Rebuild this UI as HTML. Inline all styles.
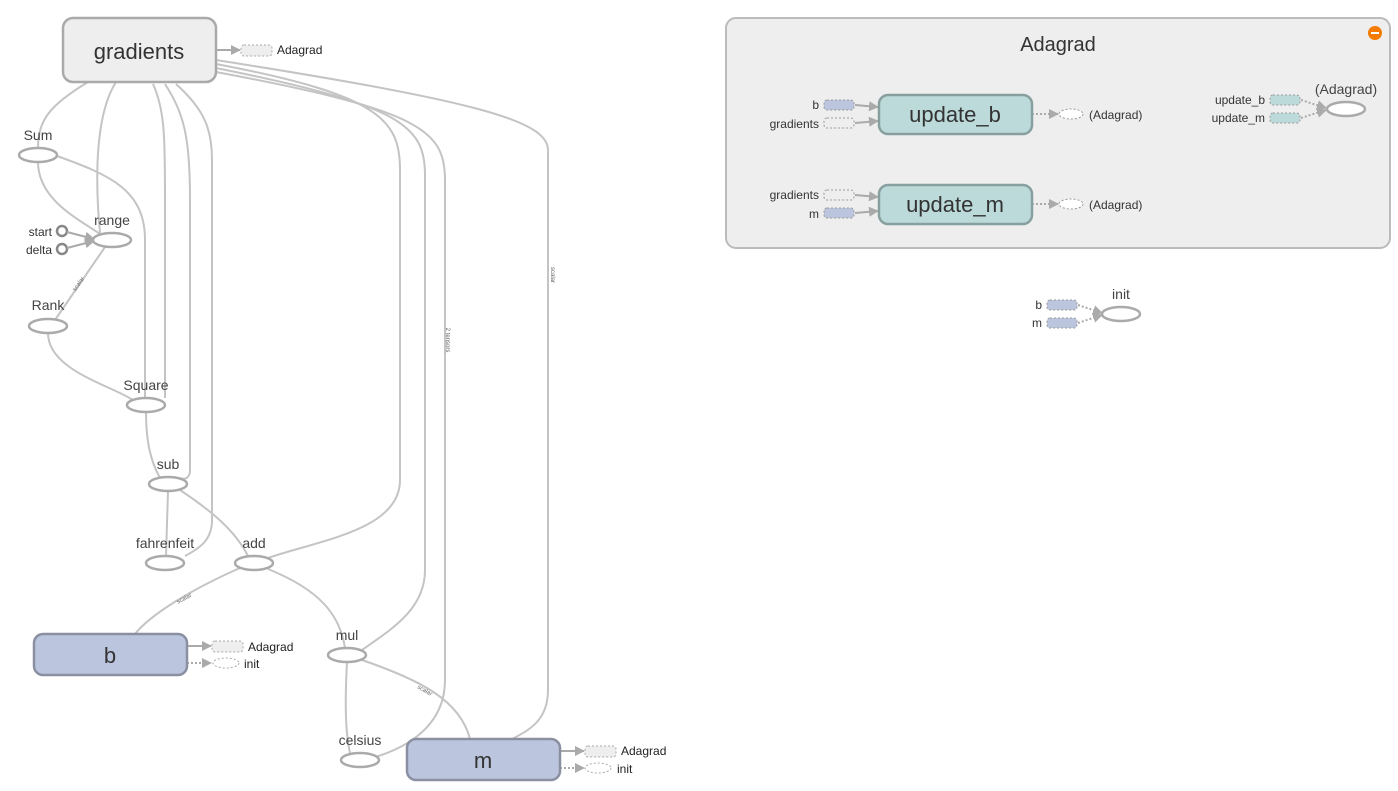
<!DOCTYPE html>
<html><head><meta charset="utf-8"><style>
html,body{margin:0;padding:0;background:#fff;}
svg{display:block;font-family:"Liberation Sans",sans-serif;}
</style></head><body>
<svg width="1398" height="791" viewBox="0 0 1398 791">
<defs>
<marker id="ar" viewBox="0 0 10 10" refX="9" refY="5" markerWidth="5" markerHeight="5" orient="auto"><path d="M0,0L10,5L0,10z" fill="#aaa"/></marker>
</defs>
<rect x="726" y="18" width="664" height="230" rx="10" fill="#eee" stroke="#bbb" stroke-width="2"/>
<g fill="none" stroke="#c4c4c4" stroke-width="2">
<path d="M88,82 C50,105 38,120 38,148"/>
<path d="M116,82 C95,115 95,180 100,233"/>
<path d="M153,84 C165,110 165,140 165,200 L165,398"/>
<path d="M165,84 C185,115 190,140 190,200 L190,470 C190,478 185,480 180,478"/>
<path d="M176,84 C205,110 212,130 212,160 L212,520 C212,540 200,548 185,556"/>
<path d="M38,162 C38,200 80,220 100,234"/>
<path d="M57,156 C110,175 145,190 145,240 L145,398"/>
<path d="M105,247 L55,320"/>
<path d="M48,333 C48,370 110,385 133,400"/>
<path d="M146,412 C146,440 150,460 160,478"/>
<path d="M168,491 L166,556"/>
<path d="M180,490 C210,510 235,530 248,556"/>
<path d="M240,568 C190,590 150,615 135,634"/>
<path d="M268,569 C320,590 340,615 345,648"/>
<path d="M347,662 C345,700 345,730 350,753"/>
<path d="M362,660 C420,680 460,700 470,739"/>
<path d="M216,64 C380,95 400,120 400,170 L400,480 C400,530 320,540 268,558"/>
<path d="M216,68 C400,105 425,125 425,175 L425,570 C425,610 390,630 362,650"/>
<path d="M216,72 C420,110 445,130 445,180 L445,680 C445,730 400,750 372,758"/>
<path d="M216,60 C470,100 548,120 548,150 L548,690 C548,720 530,730 510,740"/>
</g>
<g font-size="6" fill="#666">
<text x="551" y="275" transform="rotate(90 551 275)" text-anchor="middle">scalar</text>
<text x="446" y="340" transform="rotate(90 446 340)" text-anchor="middle">2 tensors</text>
<text x="185" y="600" transform="rotate(-28 185 600)" text-anchor="middle">scalar</text>
<text x="424" y="692" transform="rotate(30 424 692)" text-anchor="middle">scalar</text>
<text x="80" y="285" transform="rotate(-55 80 285)" text-anchor="middle">scalar</text>
</g>
<g fill="none" stroke="#888" stroke-width="2.5">
<circle cx="62" cy="231" r="5"/><circle cx="62" cy="249" r="5"/>
</g>
<g stroke="#aaa" stroke-width="2" marker-end="url(#ar)">
<line x1="67" y1="232" x2="94" y2="239"/><line x1="67" y1="248" x2="94" y2="241"/>
<line x1="216" y1="50" x2="240" y2="50"/>
<line x1="187" y1="646" x2="211" y2="646"/>
<line x1="560" y1="751" x2="584" y2="751"/>
<line x1="855" y1="105" x2="878" y2="107"/><line x1="855" y1="123" x2="878" y2="121"/>
<line x1="855" y1="195" x2="878" y2="197"/><line x1="855" y1="213" x2="878" y2="211"/>
</g>
<g stroke="#aaa" stroke-width="2" stroke-dasharray="2,2" marker-end="url(#ar)" fill="none">
<line x1="187" y1="663" x2="211" y2="663"/>
<line x1="560" y1="768" x2="584" y2="768"/>
<line x1="1032" y1="114" x2="1058" y2="114"/>
<line x1="1032" y1="204" x2="1058" y2="204"/>
<path d="M1301,100 L1326,108"/><path d="M1301,118 L1326,110"/>
<path d="M1078,305 L1102,313"/><path d="M1078,323 L1102,315"/>
</g>
<g fill="#fff" stroke="#aaa" stroke-width="2.5">
<ellipse cx="38" cy="155" rx="19" ry="7"/>
<ellipse cx="112" cy="240" rx="19" ry="7"/>
<ellipse cx="48" cy="326" rx="19" ry="7"/>
<ellipse cx="146" cy="405" rx="19" ry="7"/>
<ellipse cx="168" cy="484" rx="19" ry="7"/>
<ellipse cx="165" cy="563" rx="19" ry="7"/>
<ellipse cx="254" cy="563" rx="19" ry="7"/>
<ellipse cx="347" cy="655" rx="19" ry="7"/>
<ellipse cx="360" cy="760" rx="19" ry="7"/>
<ellipse cx="1121" cy="314" rx="19" ry="7"/>
</g>
<g font-size="14" fill="#444" text-anchor="middle">
<text x="38" y="140">Sum</text><text x="112" y="225">range</text><text x="48" y="310">Rank</text>
<text x="146" y="390">Square</text><text x="168" y="469">sub</text><text x="165" y="548">fahrenfeit</text>
<text x="254" y="548">add</text><text x="347" y="640">mul</text><text x="360" y="745">celsius</text>
<text x="1121" y="299">init</text>
</g>
<g font-size="12" fill="#333" text-anchor="end"><text x="52" y="236">start</text><text x="52" y="254">delta</text></g>
<rect x="63" y="18" width="153" height="64" rx="10" fill="#eee" stroke="#aaa" stroke-width="2.5"/>
<text x="139" y="59" font-size="22" fill="#333" text-anchor="middle">gradients</text>
<rect x="34" y="634" width="153" height="41" rx="9" fill="#bbc5dd" stroke="#8a90a2" stroke-width="2.5"/>
<text x="110" y="663" font-size="22" fill="#333" text-anchor="middle">b</text>
<rect x="407" y="739" width="153" height="41" rx="9" fill="#bbc5dd" stroke="#8a90a2" stroke-width="2.5"/>
<text x="483" y="768" font-size="22" fill="#333" text-anchor="middle">m</text>
<g stroke="#aaa" stroke-width="1" stroke-dasharray="2,2">
<rect x="241" y="45" width="31" height="11" rx="3" fill="#eee"/>
<rect x="212" y="641" width="31" height="11" rx="3" fill="#eee"/>
<ellipse cx="226" cy="663" rx="13" ry="5" fill="#fff"/>
<rect x="585" y="746" width="31" height="11" rx="3" fill="#eee"/>
<ellipse cx="598" cy="768" rx="13" ry="5" fill="#fff"/>
</g>
<g font-size="12" fill="#222">
<text x="277" y="54">Adagrad</text><text x="248" y="651">Adagrad</text><text x="244" y="668">init</text>
<text x="621" y="755">Adagrad</text><text x="617" y="773">init</text>
</g>
<text x="1058" y="51" font-size="20" fill="#333" text-anchor="middle">Adagrad</text>
<circle cx="1375" cy="33" r="7" fill="#f57c00"/><rect x="1371" y="32" width="8" height="2" fill="#fff"/>
<rect x="879" y="95" width="153" height="39" rx="9" fill="#bddadb" stroke="#879f9f" stroke-width="2.5"/>
<text x="955" y="122" font-size="22" fill="#333" text-anchor="middle">update_b</text>
<rect x="879" y="185" width="153" height="39" rx="9" fill="#bddadb" stroke="#879f9f" stroke-width="2.5"/>
<text x="955" y="212" font-size="22" fill="#333" text-anchor="middle">update_m</text>
<g stroke="#999" stroke-width="1" stroke-dasharray="2,2">
<rect x="824" y="100" width="30" height="10" rx="3" fill="#bbc5dd"/>
<rect x="824" y="118" width="30" height="10" rx="3" fill="#eee"/>
<rect x="824" y="190" width="30" height="10" rx="3" fill="#eee"/>
<rect x="824" y="208" width="30" height="10" rx="3" fill="#bbc5dd"/>
<ellipse cx="1071" cy="114" rx="12" ry="5" fill="#fff"/>
<ellipse cx="1071" cy="204" rx="12" ry="5" fill="#fff"/>
<rect x="1270" y="95" width="30" height="10" rx="3" fill="#bddadb"/>
<rect x="1270" y="113" width="30" height="10" rx="3" fill="#bddadb"/>
<rect x="1047" y="300" width="30" height="10" rx="3" fill="#bbc5dd"/>
<rect x="1047" y="318" width="30" height="10" rx="3" fill="#bbc5dd"/>
</g>
<ellipse cx="1346" cy="109" rx="19" ry="7" fill="#fff" stroke="#aaa" stroke-width="2.5"/>
<text x="1346" y="94" font-size="14" fill="#444" text-anchor="middle">(Adagrad)</text>
<g font-size="12" fill="#333" text-anchor="end">
<text x="819" y="109">b</text><text x="819" y="128">gradients</text>
<text x="819" y="199">gradients</text><text x="819" y="218">m</text>
<text x="1265" y="104">update_b</text><text x="1265" y="122">update_m</text>
<text x="1042" y="309">b</text><text x="1042" y="327">m</text>
</g>
<g font-size="12" fill="#333"><text x="1089" y="119">(Adagrad)</text><text x="1089" y="209">(Adagrad)</text></g>
</svg>
</body></html>
